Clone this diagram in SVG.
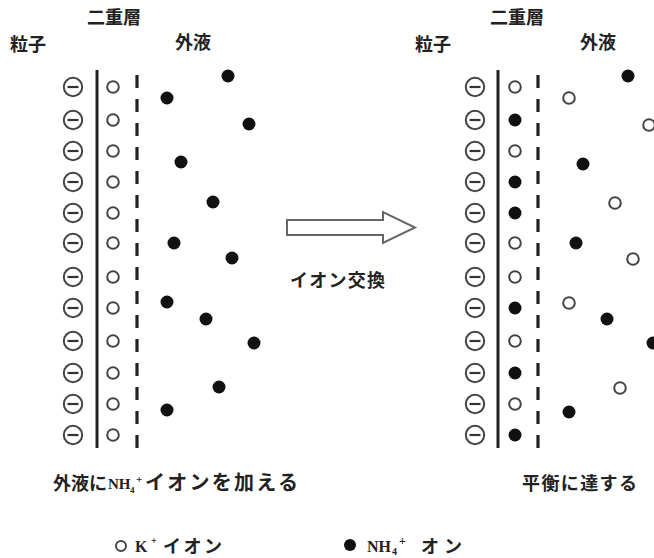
<svg xmlns="http://www.w3.org/2000/svg" xmlns:xlink="http://www.w3.org/1999/xlink" width="654" height="558" viewBox="0 0 654 558">
<style>
.jp{font-family:"Noto Sans CJK JP","Noto Sans CJK SC",sans-serif;font-weight:700;font-size:18px;fill:#222}
.sf{font-family:"Liberation Serif",serif;font-weight:700;fill:#222}
.open{fill:#fff;stroke:#444;stroke-width:2}
.full{fill:#111}
.wall{stroke:#222;stroke-width:3}
.dash{stroke:#222;stroke-width:3.2;stroke-dasharray:13 11}
</style>
<defs>
<g id="minus"><circle r="9.2" fill="#fff" stroke="#444" stroke-width="2"/><line x1="-5.5" y1="0" x2="5.5" y2="0" stroke="#333" stroke-width="2.2"/></g>
<circle id="k" r="5.8" class="open"/>
<circle id="nh" r="6.5" class="full"/>
</defs>
<rect width="654" height="558" fill="#fff"/>

<g id="labels">
<text class="jp" x="87" y="24">二重層</text>
<text class="jp" x="10" y="51">粒子</text>
<text class="jp" x="175" y="49">外液</text>
<text class="jp" x="490" y="24">二重層</text>
<text class="jp" x="415" y="51">粒子</text>
<text class="jp" x="580" y="49">外液</text>
</g>

<g id="left-panel">
<line class="wall" x1="97" y1="70" x2="97" y2="448"/>
<line class="dash" x1="137" y1="75" x2="137" y2="452"/>
<g id="left-particle">
<use xlink:href="#minus" x="73" y="87"/><use xlink:href="#minus" x="73" y="120"/><use xlink:href="#minus" x="73" y="151"/><use xlink:href="#minus" x="73" y="182"/><use xlink:href="#minus" x="73" y="213"/><use xlink:href="#minus" x="73" y="243"/><use xlink:href="#minus" x="73" y="277"/><use xlink:href="#minus" x="73" y="308"/><use xlink:href="#minus" x="73" y="341"/><use xlink:href="#minus" x="73" y="373"/><use xlink:href="#minus" x="73" y="404"/><use xlink:href="#minus" x="73" y="435"/>
</g>
<g id="left-inner">
<use xlink:href="#k" x="113" y="87"/><use xlink:href="#k" x="113" y="120"/><use xlink:href="#k" x="113" y="151"/><use xlink:href="#k" x="113" y="182"/><use xlink:href="#k" x="113" y="213"/><use xlink:href="#k" x="113" y="243"/><use xlink:href="#k" x="113" y="277"/><use xlink:href="#k" x="113" y="308"/><use xlink:href="#k" x="113" y="341"/><use xlink:href="#k" x="113" y="373"/><use xlink:href="#k" x="113" y="404"/><use xlink:href="#k" x="113" y="435"/>
</g>
<g id="left-outer">
<use xlink:href="#nh" x="228" y="76"/><use xlink:href="#nh" x="167" y="98"/><use xlink:href="#nh" x="249" y="124"/><use xlink:href="#nh" x="181" y="162"/><use xlink:href="#nh" x="213" y="202"/><use xlink:href="#nh" x="174" y="243"/><use xlink:href="#nh" x="232" y="258"/><use xlink:href="#nh" x="167" y="302"/><use xlink:href="#nh" x="206" y="319"/><use xlink:href="#nh" x="254" y="343"/><use xlink:href="#nh" x="219" y="387"/><use xlink:href="#nh" x="167" y="410"/>
</g>
</g>

<g id="right-panel">
<line class="wall" x1="498" y1="70" x2="498" y2="448"/>
<line class="dash" x1="538" y1="75" x2="538" y2="452"/>
<g id="right-particle">
<use xlink:href="#minus" x="475" y="87"/><use xlink:href="#minus" x="475" y="120"/><use xlink:href="#minus" x="475" y="151"/><use xlink:href="#minus" x="475" y="182"/><use xlink:href="#minus" x="475" y="213"/><use xlink:href="#minus" x="475" y="243"/><use xlink:href="#minus" x="475" y="277"/><use xlink:href="#minus" x="475" y="308"/><use xlink:href="#minus" x="475" y="341"/><use xlink:href="#minus" x="475" y="373"/><use xlink:href="#minus" x="475" y="404"/><use xlink:href="#minus" x="475" y="435"/>
</g>
<g id="right-inner">
<use xlink:href="#k" x="515" y="87"/><use xlink:href="#nh" x="515" y="120"/><use xlink:href="#k" x="515" y="151"/><use xlink:href="#nh" x="515" y="182"/><use xlink:href="#nh" x="515" y="213"/><use xlink:href="#k" x="515" y="243"/><use xlink:href="#k" x="515" y="277"/><use xlink:href="#nh" x="515" y="308"/><use xlink:href="#k" x="515" y="341"/><use xlink:href="#nh" x="515" y="373"/><use xlink:href="#k" x="515" y="404"/><use xlink:href="#nh" x="515" y="435"/>
</g>
<g id="right-outer">
<use xlink:href="#nh" x="628" y="76"/><use xlink:href="#k" x="569" y="98"/><use xlink:href="#k" x="649" y="125"/><use xlink:href="#nh" x="583" y="164"/><use xlink:href="#k" x="615" y="203"/><use xlink:href="#nh" x="576" y="243"/><use xlink:href="#k" x="633" y="259"/><use xlink:href="#k" x="569" y="303"/><use xlink:href="#nh" x="607" y="319"/><use xlink:href="#nh" x="653" y="343"/><use xlink:href="#k" x="620" y="388"/><use xlink:href="#nh" x="569" y="412"/>
</g>
</g>

<g id="connectors">
<g id="arrow">
<polygon points="287,220 383,220 383,212 415,227.5 383,243 383,235 287,235" fill="#fff" stroke="#666" stroke-width="2" stroke-linejoin="miter"/>
<text class="jp" x="290" y="287" textLength="95" lengthAdjust="spacing">イオン交換</text>
</g>
</g>

<g id="captions">
<text class="jp" x="53" y="490">外液に</text>
<text class="sf" x="108" y="489" font-size="15">NH</text>
<text class="sf" x="130" y="493" font-size="9">4</text>
<text class="sf" x="136" y="483" font-size="11">+</text>
<text class="jp" x="145" y="490" font-size="20" style="font-size:20px" textLength="153" lengthAdjust="spacing">イオンを加える</text>
<text class="jp" x="522" y="490" textLength="115" lengthAdjust="spacing">平衡に達する</text>
</g>

<g id="legend">
<circle cx="121" cy="546" r="5" class="open"/>
<text class="sf" x="135" y="552" font-size="16">K</text>
<text class="sf" x="151" y="544" font-size="10">+</text>
<text class="jp" x="163" y="553" textLength="59" lengthAdjust="spacing">イオン</text>
<circle cx="350" cy="545" r="6" class="full"/>
<text class="sf" x="367" y="552" font-size="16">NH</text>
<text class="sf" x="392" y="555" font-size="10">4</text>
<text class="sf" x="399" y="545" font-size="12">+</text>
<text class="jp" x="421" y="553" textLength="41" lengthAdjust="spacing">オン</text>
</g>
</svg>
